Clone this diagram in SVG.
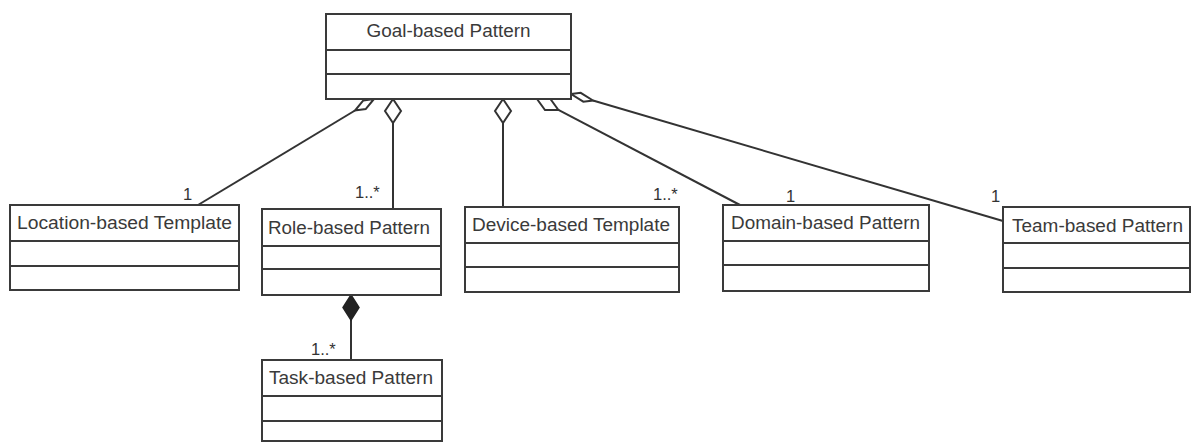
<svg xmlns="http://www.w3.org/2000/svg" width="1192" height="443" viewBox="0 0 1192 443">
<style>
.box{fill:#fff;stroke:#3a3a3a;stroke-width:2}
.div{stroke:#3a3a3a;stroke-width:2}
.ln{stroke:#333;stroke-width:2;fill:none}
.dia{fill:#fff;stroke:#333;stroke-width:2}
.cmp{fill:#222;stroke:#222;stroke-width:1.5}
.t{font-family:"Liberation Sans",Arial,sans-serif;font-size:17.5px;fill:#3a3a3a}
.m{font-family:"Liberation Sans",Arial,sans-serif;font-size:16.5px;fill:#333}
</style>
<rect width="1192" height="443" fill="#fff"/>
<g id="connectors">
<line class="ln" x1="355" y1="110.5" x2="198" y2="205"/>
<polygon class="dia" points="374,99 363.3,100.4 355,110.5 365.7,109.1"/>
<line class="ln" x1="393" y1="123" x2="393" y2="209"/>
<polygon class="dia" points="393,99 401,111 393,123 385,111"/>
<line class="ln" x1="503" y1="123" x2="503" y2="207"/>
<polygon class="dia" points="503,99 511,111 503,123 495,111"/>
<line class="ln" x1="558.4" y1="109.9" x2="740" y2="205"/>
<polygon class="dia" points="537,99 545,110 558.4,109.9 550.4,98.9"/>
<line class="ln" x1="593" y1="100.5" x2="1003" y2="221"/>
<polygon class="dia" points="571,94 580.7,92.8 593,100.5 583.3,101.7"/>
<line class="ln" x1="351" y1="320" x2="351" y2="360"/>
<polygon class="cmp" points="351,295 359,307.5 351,320 343,307.5"/>
<text class="m" x="183" y="200">1</text>
<text class="m" x="355" y="198">1..*</text>
<text class="m" x="653" y="200">1..*</text>
<text class="m" x="786" y="202">1</text>
<text class="m" x="991" y="202">1</text>
<text class="m" x="311" y="355">1..*</text>
</g>
<g id="goal">
<rect class="box" x="326" y="14" width="245" height="85"/>
<line class="div" x1="326" y1="50" x2="571" y2="50"/>
<line class="div" x1="326" y1="74" x2="571" y2="74"/>
<text class="t" x="448.5" y="37" text-anchor="middle" textLength="164" lengthAdjust="spacingAndGlyphs">Goal-based Pattern</text>
</g>
<g id="location">
<rect class="box" x="10" y="205" width="229" height="85"/>
<line class="div" x1="10" y1="241" x2="239" y2="241"/>
<line class="div" x1="10" y1="266" x2="239" y2="266"/>
<text class="t" x="17" y="229" textLength="215" lengthAdjust="spacingAndGlyphs">Location-based Template</text>
</g>
<g id="role">
<rect class="box" x="262" y="209" width="179" height="86"/>
<line class="div" x1="262" y1="246" x2="441" y2="246"/>
<line class="div" x1="262" y1="269" x2="441" y2="269"/>
<text class="t" x="268" y="234" textLength="162" lengthAdjust="spacingAndGlyphs">Role-based Pattern</text>
</g>
<g id="device">
<rect class="box" x="465" y="207" width="214" height="85"/>
<line class="div" x1="465" y1="243" x2="679" y2="243"/>
<line class="div" x1="465" y1="267" x2="679" y2="267"/>
<text class="t" x="472" y="231" textLength="198" lengthAdjust="spacingAndGlyphs">Device-based Template</text>
</g>
<g id="domain">
<rect class="box" x="723" y="205" width="206" height="86"/>
<line class="div" x1="723" y1="241" x2="929" y2="241"/>
<line class="div" x1="723" y1="265" x2="929" y2="265"/>
<text class="t" x="731" y="229" textLength="189" lengthAdjust="spacingAndGlyphs">Domain-based Pattern</text>
</g>
<g id="team">
<rect class="box" x="1003" y="207" width="187" height="85"/>
<line class="div" x1="1003" y1="243" x2="1190" y2="243"/>
<line class="div" x1="1003" y1="268" x2="1190" y2="268"/>
<text class="t" x="1012" y="232" textLength="171" lengthAdjust="spacingAndGlyphs">Team-based Pattern</text>
</g>
<g id="task">
<rect class="box" x="262" y="360" width="180" height="81"/>
<line class="div" x1="262" y1="396" x2="442" y2="396"/>
<line class="div" x1="262" y1="421" x2="442" y2="421"/>
<text class="t" x="269" y="384" textLength="164" lengthAdjust="spacingAndGlyphs">Task-based Pattern</text>
</g>
</svg>
